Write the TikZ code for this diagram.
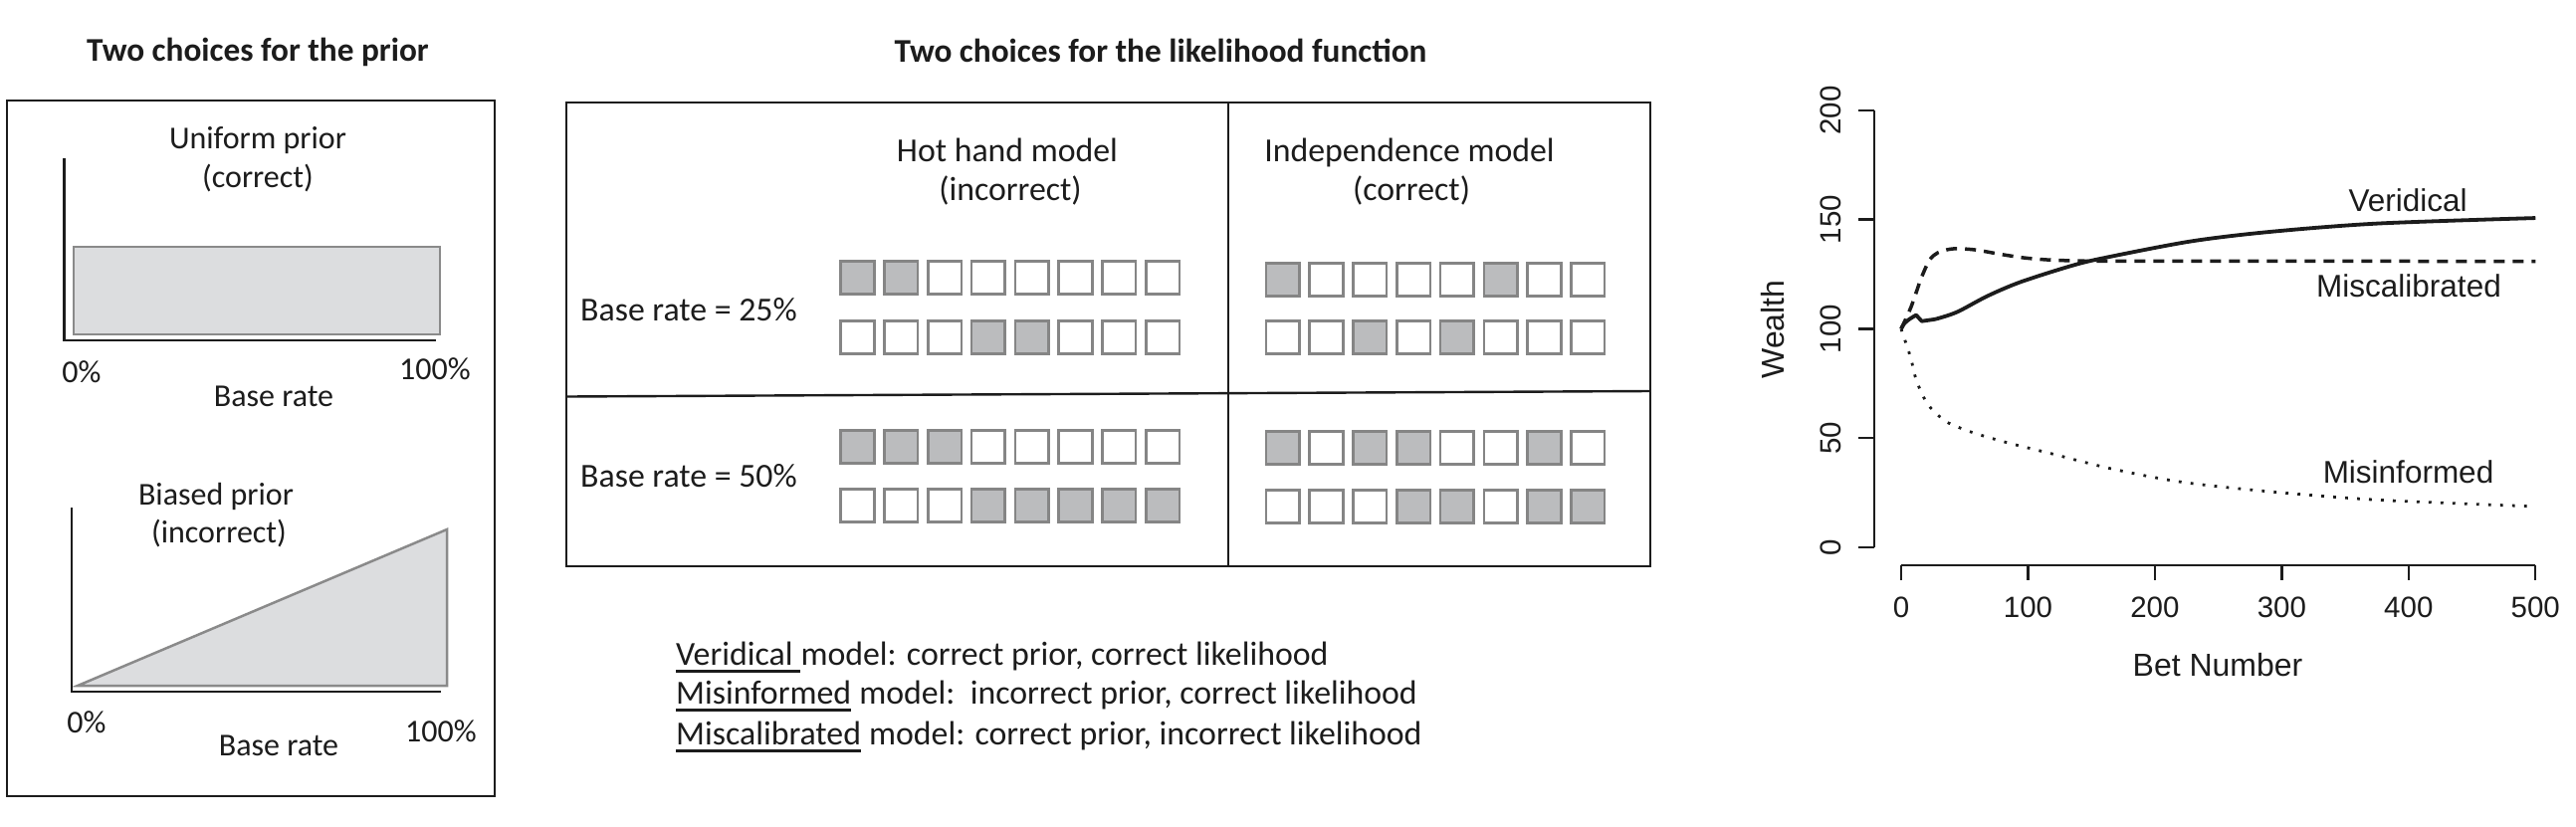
\documentclass[tikz,border=0pt]{standalone}
\usepackage{fontspec}
\newfontfamily\calfont{Carlito}
\newfontfamily\rfont{Liberation Sans}
\definecolor{ink}{HTML}{1C1C1C}
\definecolor{cellfill}{HTML}{BBBCBE}
\definecolor{cellline}{HTML}{858585}
\definecolor{priorfill}{HTML}{DCDDDF}
\definecolor{priorline}{HTML}{8A8A8A}
\newcommand{\drawcellrow}[4]{%
  \foreach \s [count=\i from 0] in {#4}
    \node[cellbox,\s] (#1\i) at ({#2+43.8*\i},#3) {};}
\begin{document}
\begin{tikzpicture}[x=1pt,y=-1pt,
  title/.style={inner sep=0pt, font=\calfont\bfseries\fontsize{33.3}{40}\selectfont, text=ink, anchor=base},
  plbl/.style={inner sep=0pt, font=\calfont\fontsize{32}{38}\selectfont, text=ink, anchor=base},
  mlbl/.style={inner sep=0pt, font=\calfont\fontsize{33.8}{40}\selectfont, text=ink, anchor=base},
  leg/.style={inner sep=0pt, font=\calfont\fontsize{33.8}{40}\selectfont, text=ink, anchor=base west},
  frame/.style={draw=ink, line width=2.8pt},
  priorax/.style={draw=ink, line width=2.8pt},
  priorshape/.style={fill=priorfill, draw=priorline, line width=2.5pt, line join=miter},
  cellbox/.style={draw=cellline, line width=2.6pt, minimum width=33.5pt, minimum height=33.5pt, inner sep=0pt},
  cellon/.style={fill=cellfill},
  celloff/.style={fill=white},
  uline/.style={draw=ink, line width=3.2pt},
  paxis/.style={draw=ink, line width=2.4pt},
  rtick/.style={inner sep=0pt, font=\rfont\fontsize{29.5}{34}\selectfont, text=ink, anchor=base},
  rlab/.style={inner sep=0pt, font=\rfont\fontsize{32}{38}\selectfont, text=ink, anchor=base},
  rcurve/.style={inner sep=0pt, font=\rfont\fontsize{31.5}{38}\selectfont, text=ink, anchor=base},
  solidcurve/.style={draw=ink, line width=3.8pt, line join=round},
  dashcurve/.style={draw=ink, line width=3.5pt, dash pattern=on 11pt off 8pt},
  dotcurve/.style={draw=ink, line width=2.8pt, dash pattern=on 2.8pt off 9.2pt}
]
\useasboundingbox (0,0) rectangle (2588,830);
\fill[white] (0,0) rectangle (2588,830);

% ---------------- left panel: priors ----------------
\node[title] (tprior) at (259,61) {Two choices for the prior};
\draw[frame] (7,101) rectangle (497,800);

\node[plbl] (uni1) at (259,149) {Uniform prior};
\node[plbl] (uni2) at (259,188) {(correct)};
\draw[priorshape] (74,248) rectangle (442,336);
\draw[priorax] (64.5,159) -- (64.5,342) -- (438,342);
\node[plbl] (u0) at (82,384) {0\%};
\node[plbl] (u100) at (437,381) {100\%};
\node[plbl] (ubr) at (275,408) {Base rate};

\node[plbl] (bia1) at (217,507) {Biased prior};
\node[plbl] (bia2) at (220,545) {(incorrect)};
\draw[priorshape] (78,689) -- (449,532) -- (449,689) -- cycle;
\draw[priorax] (72,510) -- (72,695) -- (443,695);
\node[plbl] (b0) at (87,736) {0\%};
\node[plbl] (b100) at (443,745) {100\%};
\node[plbl] (bbr) at (280,759) {Base rate};

% ---------------- middle panel: likelihoods ----------------
\node[title] (tlik) at (1166,62) {Two choices for the likelihood function};
\draw[frame] (569,103) rectangle (1658,569);
\draw[frame] (1234,103) -- (1234,569);
\draw[frame, line width=2.4pt] (569,398.5) -- (1658,393);

\node[mlbl] (hh1) at (1012,162) {Hot hand model};
\node[mlbl] (hh2) at (1015,201) {(incorrect)};
\node[mlbl] (in1) at (1416,162) {Independence model};
\node[mlbl] (in2) at (1418,201) {(correct)};
\node[mlbl, anchor=base west] (br25) at (583,322) {Base rate = 25\%};
\node[mlbl, anchor=base west] (br50) at (583,489) {Base rate = 50\%};

\drawcellrow{ha}{861.5}{279}{cellon,cellon,celloff,celloff,celloff,celloff,celloff,celloff}
\drawcellrow{hb}{861.5}{339}{celloff,celloff,celloff,cellon,cellon,celloff,celloff,celloff}
\drawcellrow{ia}{1288.7}{281}{cellon,celloff,celloff,celloff,celloff,cellon,celloff,celloff}
\drawcellrow{ib}{1288.7}{339}{celloff,celloff,cellon,celloff,cellon,celloff,celloff,celloff}
\drawcellrow{hc}{861.5}{449}{cellon,cellon,cellon,celloff,celloff,celloff,celloff,celloff}
\drawcellrow{hd}{861.5}{508}{celloff,celloff,celloff,cellon,cellon,cellon,cellon,cellon}
\drawcellrow{ic}{1288.7}{450}{cellon,celloff,cellon,cellon,celloff,celloff,cellon,celloff}
\drawcellrow{id}{1288.7}{509}{celloff,celloff,celloff,cellon,cellon,celloff,cellon,cellon}

% ---------------- legend ----------------
\node[leg] (lv) at (679,668) {Veridical\kern0.226em};
\node[leg] (lvr) at (lv.base east) {model: correct prior, correct likelihood};
\node[leg] (li) at (679,707) {Misinformed};
\node[leg] (lir) at ([xshift=7.7pt]li.base east) {model:\ \ incorrect prior, correct likelihood};
\node[leg] (lc) at (679,748) {Miscalibrated};
\node[leg] (lcr) at ([xshift=7.7pt]lc.base east) {model: correct prior, incorrect likelihood};
\draw[uline] ([yshift=-6.5pt]lv.base west) -- ([yshift=-6.5pt]lv.base east);
\draw[uline] ([yshift=-6.5pt]li.base west) -- ([yshift=-6.5pt]li.base east);
\draw[uline] ([yshift=-6.5pt]lc.base west) -- ([yshift=-6.5pt]lc.base east);

% ---------------- right panel: wealth plot ----------------
\draw[paxis] (1883,550) -- (1883,110.8);
\foreach \w in {0,50,100,150,200} {
  \draw[paxis] (1883,{550-2.196*\w}) -- ++(-16,0);
  \node[rtick, rotate=90] (yt\w) at (1849,{550-2.196*\w}) {\w};
}
\draw[paxis] (1910,568) -- (2547.25,568);
\foreach \b in {0,100,200,300,400,500} {
  \draw[paxis] ({1910+1.2745*\b},568) -- ++(0,15);
  \node[rtick] (xt\b) at ({1910+1.2745*\b},620) {\b};
}
\node[rlab, rotate=90] (ylab) at (1792,331) {Wealth};
\node[rlab] (xlab) at (2228,679) {Bet Number};

\begin{scope}[shift={(1910,550)}, x=1.2745pt, y=2.196pt]
  \draw[solidcurve] plot[smooth] coordinates {(0,100) (2.6,102.5) (6.5,104.4) (11.8,106.3)}
     -- plot[smooth] coordinates {(16.2,103.5) (22.2,104) (28.8,104.7) (44.5,107.8) (68,115) (94,121.4) (133.4,128.7) (159.6,132.4) (228,140) (291,144.4) (376,148.2) (500,150.7)};
  \draw[dashcurve] plot[smooth] coordinates {(0,100) (7.8,110) (15.7,123) (22.2,131.3) (28.8,134.8) (40.5,136.6) (57.5,136.2) (78.5,134.1) (96.7,132.5) (115,131.6) (133.4,131.2) (170,131) (500,130.9)};
  \draw[dotcurve] plot[smooth] coordinates {(0,100) (3.1,94.6) (6,89.6) (8.6,84.2) (10.7,78.9) (13.9,73.6) (17.8,68.6) (23,64) (29.8,60.1) (37.4,56.9) (55,52.8) (82.4,48.1) (119,42.8) (164.8,36.1) (221,29.9) (291,25.5) (376,21.7) (500,18.7)};
\end{scope}

\node[rcurve] (cver) at (2419,212) {Veridical};
\node[rcurve] (cmis) at (2420,298) {Miscalibrated};
\node[rcurve] (cinf) at (2419.5,485) {Misinformed};
\end{tikzpicture}
\end{document}
